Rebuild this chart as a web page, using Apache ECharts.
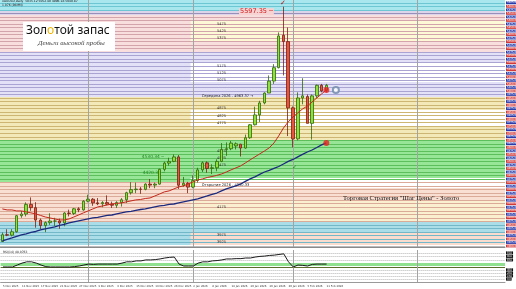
<!DOCTYPE html>
<html><head><meta charset="utf-8">
<script src="https://cdn.jsdelivr.net/npm/echarts@6/dist/echarts.min.js"></script>
<style>html,body{margin:0;padding:0;background:#fff}#c{width:516px;height:289px}</style>
</head><body><div id="c"></div>
<script>
const dates = ['5 Nov 2025','6 Nov 2025','7 Nov 2025','10 Nov 2025','11 Nov 2025','12 Nov 2025','13 Nov 2025','14 Nov 2025','17 Nov 2025','18 Nov 2025','19 Nov 2025','20 Nov 2025','21 Nov 2025','24 Nov 2025','25 Nov 2025','26 Nov 2025','27 Nov 2025','28 Nov 2025','1 Dec 2025','2 Dec 2025','3 Dec 2025','4 Dec 2025','5 Dec 2025','8 Dec 2025','9 Dec 2025','10 Dec 2025','11 Dec 2025','12 Dec 2025','15 Dec 2025','16 Dec 2025','17 Dec 2025','18 Dec 2025','19 Dec 2025','22 Dec 2025','23 Dec 2025','24 Dec 2025','26 Dec 2025','29 Dec 2025','30 Dec 2025','31 Dec 2025','2 Jan 2026','5 Jan 2026','6 Jan 2026','7 Jan 2026','8 Jan 2026','9 Jan 2026','12 Jan 2026','13 Jan 2026','14 Jan 2026','15 Jan 2026','16 Jan 2026','19 Jan 2026','20 Jan 2026','21 Jan 2026','22 Jan 2026','23 Jan 2026','26 Jan 2026','27 Jan 2026','28 Jan 2026','29 Jan 2026','30 Jan 2026','2 Feb 2026','3 Feb 2026','4 Feb 2026','5 Feb 2026','6 Feb 2026','9 Feb 2026','10 Feb 2026','11 Feb 2026'];
const open  = [3932,3980,3977,4001,4115,4127,4195,4172,4084,4045, 4066,4077,4077,4064,4134,4131,4164,4156,4218,4232, 4206,4200,4208,4197,4189,4208,4228,4278,4300,4304, 4302,4339,4332,4339,4444,4488,4500,4532,4331,4345, 4318,4365,4440,4490,4450,4455,4500,4585,4590,4610, 4622,4595,4668,4760,4830,4915,4985,5070,5165,5395, 5350,4880,4660,4950,4960,4770,4965,5040,5005];
const high  = [3996,4019,4020,4120,4148,4210,4245,4211,4095,4075, 4132,4100,4094,4140,4158,4170,4175,4225,4264,4240, 4240,4218,4259,4215,4218,4240,4285,4353,4350,4318, 4345,4375,4350,4448,4498,4526,4550,4545,4390,4355, 4400,4455,4500,4500,4480,4515,4630,4635,4645,4635, 4625,4690,4765,4888,4930,4990,5110,5190,5415,5597.35, 5450,4890,4990,5090,4975,4975,5045,5050,5050];
const low   = [3929,3970,3968,3995,4100,4110,4150,4030,4020,3998, 4050,4040,4022,4040,4110,4120,4140,4150,4210,4185, 4190,4175,4190,4170,4170,4180,4205,4265,4275,4270, 4295,4310,4310,4335,4430,4470,4495,4305,4320,4275, 4310,4350,4425,4420,4410,4430,4495,4540,4580,4585, 4535,4590,4660,4755,4780,4905,4985,5050,5160,5110, 4680,4600,4650,4905,4770,4655,4950,4990,4990];
const close = [3980,3977,4001,4115,4127,4195,4172,4084,4045,4066, 4077,4077,4064,4134,4131,4164,4156,4218,4232,4206, 4200,4208,4197,4189,4208,4228,4278,4300,4304,4302, 4339,4332,4339,4444,4488,4500,4532,4331,4345,4318, 4365,4440,4490,4450,4455,4500,4585,4590,4630,4625, 4595,4668,4760,4830,4915,4985,5070,5165,5390,5350, 4880,4660,4950,4965,4770,4965,5040,5000,5040];
const maFast = [4163,4156,4156,4149,4149,4142,4135,4128,4117,4106, 4099,4092,4085,4085,4092,4106,4120,4135,4149,4163, 4177,4184,4191,4198,4202,4206,4213,4220,4227,4230, 4237,4241,4255,4269,4284,4291,4305,4319,4326,4340, 4354,4369,4376,4386,4393,4401,4411,4425,4440,4454, 4468,4489,4511,4532,4553,4574,4596,4631,4681,4737, 4780,4816,4844,4872,4893,4922,4950,4979,5007];
const maSlow = [3936,3947,3957,3968,3979,3986,3996,4003,4014,4021, 4028,4035,4046,4053,4064,4071,4078,4085,4092,4099, 4103,4110,4117,4120,4128,4135,4142,4145,4152,4159, 4163,4170,4177,4184,4188,4195,4198,4206,4213,4220, 4227,4234,4245,4255,4266,4276,4291,4305,4316,4326, 4340,4358,4376,4390,4408,4425,4436,4450,4464,4482, 4500,4514,4532,4550,4567,4581,4599,4617,4631];
const osc = [47,47,47,53,59,63,63,59,53,48, 47,47,47,47,47,48,50,53,56,55, 56,56,56,56,56,59,63,63,66,66, 69,69,70,72,75,77,78,56,50,50, 50,59,63,63,66,67,69,72,72,73, 73,75,75,78,80,81,83,84,86,88, 63,47,53,52,50,55,56,56,56];
const levelPrices = [3900,3925,3950,3975,4000,4025,4050,4075,4100,4125,4150,4175,4200,4225,4250,4275,4300,4325,4350,4375,4400,4425,4450,4475,4500,4525,4550,4575,4600,4625,4650,4675,4700,4725,4750,4775,4800,4825,4850,4875,4900,4925,4950,4975,5000,5025,5050,5075,5100,5125,5150,5175,5200,5225,5250,5275,5300,5325,5350,5375,5400,5425,5450,5475,5500,5525,5550,5575,5600,5625];
const levelLabels = [5475,5425,5375,5175,5125,5075,4875,4825,4775,4575,4525,4475,4175,3975,3925];
const midYear = 4963.37, openYear = 4330.33;
const markA = 4530.34, markB = 4420.38;
const oscLevels = [9,19,28,38,69,80,91];
const monthStarts = [18,40,61,87];
const labelEvery = 4;

const N = 106;
const cats = dates.slice();
for (let i = dates.length; i < N; i++) cats.push('f' + i);

const bands = [
 {from:5574,to:5645,fill:'#a9e7ef',line:'#6cc6d4'},
 {from:5539,to:5574,fill:'#dcd4ea',line:'#9890b8'},
 {from:5276,to:5539,fill:'#f9dede',line:'#d4a4ac'},
 {from:4957,to:5276,fill:'#e3e1f7',line:'#aaa4d2'},
 {from:4652,to:4957,fill:'#f3e8b8',line:'#cdb673'},
 {from:4354,to:4652,fill:'#97e597',line:'#5cbf5c'},
 {from:4071,to:4354,fill:'#f9ded2',line:'#d9ab98'},
 {from:3908,to:4071,fill:'#aadde7',line:'#72b8c9'}
];
const bands2026 = [
 {from:5347,to:5496,fill:'#fdf8d6'},
 {from:5064,to:5206,fill:'#ffffff'},
 {from:4745,to:4865,fill:'#ffffff'},
 {from:4312,to:4383,fill:'#ffffff'},
 {from:4071,to:4227,fill:'#faf0cf'},
 {from:3908,to:4000,fill:'#f9dccd'}
];
function lineColor(p){ for (const b of bands) if (p>=b.from && p<=b.to) return b.line; return '#bbbbbb'; }

const chart = echarts.init(document.getElementById('c'), null, {renderer:'canvas'});
const candleData = dates.map((d,i)=>[open[i], close[i], low[i], high[i]]);

const option = {
  animation:false,
  backgroundColor:'#ffffff',
  grid:[{left:0,right:11,top:0,height:247},{left:0,right:11,top:250,height:32}],
  xAxis:[
    {type:'category',gridIndex:0,data:cats,boundaryGap:true,axisLine:{show:true,lineStyle:{color:'#8a8a8a'}},axisTick:{show:false},axisLabel:{show:false},splitLine:{show:false}},
    {type:'value',gridIndex:0,min:0,max:N,show:false},
    {type:'category',gridIndex:1,data:cats,boundaryGap:true,axisLine:{show:true,lineStyle:{color:'#9a9a9a'}},axisTick:{show:false},
      axisLabel:{fontSize:2.7,color:'#333',margin:3,align:'left',fontFamily:'DejaVu Sans',
        interval:(i)=> i % labelEvery === 0 && i < dates.length,
        formatter:(v,i)=> i < dates.length ? v : ''}},
    {type:'value',gridIndex:1,min:0,max:N,show:false}
  ],
  yAxis:[
    {type:'value',gridIndex:0,min:3893,max:5645,show:false,scale:true},
    {type:'value',gridIndex:1,min:0,max:100,show:false}
  ],
  graphic:{elements:[
    {type:'text',z:100,left:2,top:0,style:{text:'XAUUSD,Daily  5035.12 5052.40 4996.18 5040.87',fontSize:3,fill:'#111',fontFamily:'DejaVu Sans'}},
    {type:'text',z:100,left:2,top:4,style:{text:'1.076 (PAMM)',fontSize:3,fill:'#111',fontFamily:'DejaVu Sans'}},
    {type:'rect',z:100,shape:{x:23,y:22,width:92,height:29},style:{fill:'#ffffff'}},
    {type:'text',z:101,left:26,top:25,style:{text:'{a|Зол}{b|о}{a|той запас}',fontFamily:'Noto Sans',
      rich:{a:{fontSize:12,fill:'#111',fontFamily:'Noto Sans'},b:{fontSize:12,fill:'#f0b400',fontFamily:'Noto Sans'}}}},
    {type:'text',z:101,left:38,top:40,style:{text:'Деньги высокой пробы',fontSize:7,fontStyle:'italic',fill:'#444',fontFamily:'Liberation Serif'}},
    {type:'text',z:100,left:343,top:195,style:{text:'Торговая Стратегия "Шаг Цены" - Золото',fontSize:6.6,fill:'#111',fontFamily:'Liberation Serif'}},
    {type:'text',z:100,left:3,top:251,style:{text:'RSI(14) 48.0763',fontSize:3,fill:'#222',fontFamily:'DejaVu Sans'}}
  ]},
  series:[
    {type:'line',xAxisIndex:1,yAxisIndex:0,data:[],silent:true,z:1,
      markArea:{silent:true,data:bands.map(b=>[{yAxis:b.from,itemStyle:{color:b.fill}},{yAxis:b.to}])}},
    {type:'line',xAxisIndex:1,yAxisIndex:0,data:[],silent:true,z:1,
      markArea:{silent:true,data:bands2026.map(b=>[{xAxis:40,yAxis:b.from,itemStyle:{color:b.fill}},{xAxis:N,yAxis:b.to}])}},
    {type:'line',xAxisIndex:1,yAxisIndex:0,data:[],silent:true,z:2,
      markLine:{silent:true,symbol:['none','none'],animation:false,
        data:levelPrices.map((p,i)=>({yAxis:p,lineStyle:{color:lineColor(p),width:1,type:'solid'},
          label:{show:true,position:'end',distance:1,formatter:p.toFixed(2),fontSize:2.6,lineHeight:2.8,color:'#fff',
            backgroundColor:i%2? '#2a3aa8':'#d23a3a',padding:[0,1],fontFamily:'DejaVu Sans'}}))
          .concat(monthStarts.map(m=>({xAxis:m+0.5,lineStyle:{color:'#a3a3a3',width:1,type:'solid'},label:{show:false}})))},
      markPoint:{silent:true,symbol:'circle',symbolSize:1,itemStyle:{color:'rgba(0,0,0,0)'},
        data:levelLabels.map(p=>({coord:[46.5,p],label:{show:true,position:'inside',formatter:String(p),fontSize:3.6,color:'#333',fontFamily:'DejaVu Sans'}}))
        .concat([
          {coord:[41.2,midYear],label:{show:true,position:'right',formatter:'Середина 2026 - '+midYear.toFixed(2)+' →',fontSize:3.6,color:'#222',fontFamily:'DejaVu Sans'}},
          {coord:[41.2,openYear],label:{show:true,position:'right',formatter:'Открытие 2026 - '+openYear.toFixed(2),fontSize:3.6,color:'#222',fontFamily:'DejaVu Sans'}},
          {coord:[28.6,markA],label:{show:true,position:'right',formatter:markA.toFixed(2)+' ─',fontSize:4.4,color:'#1e8a1e',fontFamily:'DejaVu Sans'}},
          {coord:[28.8,markB],label:{show:true,position:'right',formatter:markB.toFixed(2)+' ─',fontSize:4.4,color:'#1e8a1e',fontFamily:'DejaVu Sans'}}
        ])}},
    {type:'candlestick',xAxisIndex:0,yAxisIndex:0,data:candleData,barWidth:3,z:5,
      itemStyle:{color:'#8fe03a',color0:'#e8553f',borderColor:'#2f6a08',borderColor0:'#7a1f10',borderWidth:0.8},
      markPoint:{silent:true,symbol:'circle',symbolSize:1,itemStyle:{color:'rgba(0,0,0,0)'},
        data:[
          {coord:[59,high[59]],label:{show:true,position:'inside',offset:[-27,5],formatter:high[59].toFixed(2)+' ─',fontSize:6.5,color:'#d01818',backgroundColor:'#f6d2d2',padding:[0,1],fontFamily:'DejaVu Sans'}},
          {coord:[59,high[59]],label:{show:true,position:'inside',offset:[0,-4],formatter:'✓',fontSize:7,color:'#c01010'}},
          {coord:[61,low[61]],label:{show:true,position:'inside',offset:[2,20],formatter:'✓',fontSize:6,color:'#1c8a1c'}}
        ]}},
    {type:'line',xAxisIndex:0,yAxisIndex:0,data:maFast,showSymbol:false,z:6,lineStyle:{color:'#c4281c',width:1}},
    {type:'line',xAxisIndex:0,yAxisIndex:0,data:maSlow,showSymbol:false,z:6,lineStyle:{color:'#1b2a7e',width:1.3}},
    {type:'scatter',xAxisIndex:0,yAxisIndex:0,z:7,symbolSize:6,itemStyle:{color:'#e82020'},
      data:[[maFast.length-1,maFast[maFast.length-1]],[maSlow.length-1,maSlow[maSlow.length-1]]]},
    {type:'scatter',xAxisIndex:0,yAxisIndex:0,z:7,symbol:'emptyCircle',symbolSize:6,itemStyle:{color:'#6a86a8',borderWidth:1},
      data:[[maFast.length+1,maFast[maFast.length-1]]]},
    {type:'line',xAxisIndex:3,yAxisIndex:1,data:[],silent:true,z:1,
      markArea:{silent:true,data:[[{yAxis:50,itemStyle:{color:'#8fe08f'}},{yAxis:59}]]},
      markLine:{silent:true,symbol:['none','none'],
        data:oscLevels.map(v=>({yAxis:v,lineStyle:{color:'#b5b5b5',width:1,type:[1,1]},
          label:{show:true,position:'end',distance:1,formatter:v.toFixed(1),fontSize:2.6,color:'#fff',backgroundColor:'#111',padding:[0,1]}}))
          .concat([{yAxis:47,lineStyle:{color:'#5c6a2a',width:1,type:'solid'},label:{show:false}}])
          .concat(monthStarts.map(m=>({xAxis:m+0.5,lineStyle:{color:'#a3a3a3',width:1,type:'solid'},label:{show:false}})))}},
    {type:'line',xAxisIndex:2,yAxisIndex:1,data:osc,showSymbol:false,z:5,lineStyle:{color:'#1a1a1a',width:1}}
  ]
};
chart.setOption(option);
</script></body></html>
